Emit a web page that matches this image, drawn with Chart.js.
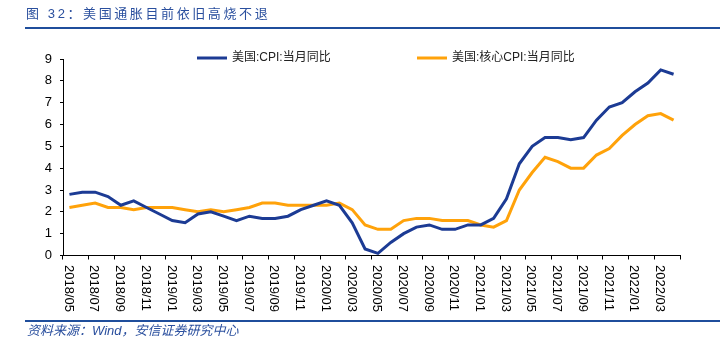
<!DOCTYPE html>
<html>
<head>
<meta charset="utf-8">
<script src="https://cdn.jsdelivr.net/npm/chart.js@4"></script>
<style>
html,body{margin:0;padding:0;background:#fff;}
#wrap{position:relative;width:720px;height:345px;overflow:hidden;background:#fff;}
#c{position:absolute;left:0;top:0;}
#title{position:absolute;left:26px;top:6px;line-height:16px;font-size:13px;font-family:"Liberation Sans","Noto Sans CJK SC",sans-serif;color:#2a4f9e;letter-spacing:2.6px;white-space:nowrap;}
#topline{position:absolute;left:25px;top:27px;width:695px;height:2px;background:#1f4e9c;}
#srcline{position:absolute;left:25px;top:320px;width:695px;height:1.5px;background:#1f4e9c;}
#src{position:absolute;left:27px;top:323px;line-height:16px;font-size:13px;font-style:italic;font-family:"Liberation Sans","Noto Sans CJK SC",sans-serif;color:#2a4f9e;letter-spacing:0px;white-space:nowrap;}
</style>
</head>
<body>
<div id="wrap">
  <canvas id="c" width="720" height="345"></canvas>
  <div id="title">图 32：美国通胀目前依旧高烧不退</div>
  <div id="topline"></div>
  <div id="srcline"></div>
  <div id="src">资料来源：Wind，安信证券研究中心</div>
</div>
<script>
const categories = [
  '2018/05','2018/06','2018/07','2018/08','2018/09','2018/10','2018/11','2018/12',
  '2019/01','2019/02','2019/03','2019/04','2019/05','2019/06','2019/07','2019/08','2019/09','2019/10','2019/11','2019/12',
  '2020/01','2020/02','2020/03','2020/04','2020/05','2020/06','2020/07','2020/08','2020/09','2020/10','2020/11','2020/12',
  '2021/01','2021/02','2021/03','2021/04','2021/05','2021/06','2021/07','2021/08','2021/09','2021/10','2021/11','2021/12',
  '2022/01','2022/02','2022/03','2022/04'
];
const cpi = [
  2.8,2.9,2.9,2.7,2.3,2.5,2.2,1.9,
  1.6,1.5,1.9,2.0,1.8,1.6,1.8,1.7,1.7,1.8,2.1,2.3,
  2.5,2.3,1.5,0.3,0.1,0.6,1.0,1.3,1.4,1.2,1.2,1.4,
  1.4,1.7,2.6,4.2,5.0,5.4,5.4,5.3,5.4,6.2,6.8,7.0,
  7.5,7.9,8.5,8.3
];
const coreCpi = [
  2.2,2.3,2.4,2.2,2.2,2.1,2.2,2.2,
  2.2,2.1,2.0,2.1,2.0,2.1,2.2,2.4,2.4,2.3,2.3,2.3,
  2.3,2.4,2.1,1.4,1.2,1.2,1.6,1.7,1.7,1.6,1.6,1.6,
  1.4,1.3,1.6,3.0,3.8,4.5,4.3,4.0,4.0,4.6,4.9,5.5,
  6.0,6.4,6.5,6.2
];
const seriesNames = ['美国:CPI:当月同比','美国:核心CPI:当月同比'];
const tickLabels = [
  '2018/05','2018/07','2018/09','2018/11','2019/01','2019/03','2019/05','2019/07','2019/09','2019/11',
  '2020/01','2020/03','2020/05','2020/07','2020/09','2020/11','2021/01','2021/03','2021/05','2021/07',
  '2021/09','2021/11','2022/01','2022/03'
];
const yMin = 0, yMax = 9, yStep = 1;

const COLORS = ['#1c3b94', '#ffa20a'];
const FONT = '"Liberation Sans", Arial, "Noto Sans CJK SC", sans-serif';
const LEGEND_POS = [{x:197, y:58}, {x:417, y:58}];

const overlay = {
  id: 'overlay',
  afterDraw(chart) {
    const ctx = chart.ctx;
    const s = chart.scales.x;
    const half = (s.getPixelForValue(1) - s.getPixelForValue(0)) / 2;
    ctx.save();
    ctx.font = '13px ' + FONT;
    ctx.fillStyle = '#000';
    ctx.textAlign = 'left';
    ctx.textBaseline = 'middle';
    tickLabels.forEach(lab => {
      const i = categories.indexOf(lab);
      const x = s.getPixelForValue(i) - half;
      ctx.save();
      ctx.translate(x + 5.3, s.top + 9.5);
      ctx.rotate(Math.PI / 2);
      ctx.fillText(lab, 0, 0);
      ctx.restore();
    });
    // legend
    chart.data.datasets.forEach((ds, k) => {
      const p = LEGEND_POS[k];
      ctx.strokeStyle = ds.borderColor;
      ctx.lineWidth = 3;
      ctx.beginPath();
      ctx.moveTo(p.x, p.y);
      ctx.lineTo(p.x + 30, p.y);
      ctx.stroke();
      ctx.fillStyle = '#222';
      ctx.font = '12px ' + FONT;
      ctx.fillText(ds.label, p.x + 35, p.y);
    });
    ctx.restore();
  }
};

new Chart(document.getElementById('c'), {
  type: 'line',
  data: {
    labels: categories,
    datasets: [
      {label: seriesNames[0], data: cpi, borderColor: COLORS[0], backgroundColor: COLORS[0], borderWidth: 3, pointRadius: 0, tension: 0, fill: false},
      {label: seriesNames[1], data: coreCpi, borderColor: COLORS[1], backgroundColor: COLORS[1], borderWidth: 3, pointRadius: 0, tension: 0, fill: false}
    ]
  },
  options: {
    responsive: false,
    animation: false,
    events: [],
    layout: {padding: {left: 23, right: 40, top: 59, bottom: 19.5}},
    plugins: {legend: {display: false}, tooltip: {enabled: false}, title: {display: false}},
    scales: {
      x: {
        type: 'category',
        offset: true,
        grid: {
          offset: true,
          drawOnChartArea: false,
          drawTicks: true,
          tickLength: 4,
          lineWidth: 1,
          color: (c) => (c.index === undefined || c.index % 2 === 0) ? '#000' : 'rgba(0,0,0,0)'
        },
        border: {display: true, color: '#000', width: 1},
        ticks: {display: false, autoSkip: false},
        afterFit: (sc) => { sc.height = 70; }
      },
      y: {
        min: yMin, max: yMax,
        ticks: {stepSize: yStep, padding: 8, color: '#000', font: {size: 13, family: FONT}},
        grid: {drawOnChartArea: false, drawTicks: true, tickLength: 3, color: '#000'},
        border: {display: true, color: '#000', width: 1},
        afterFit: (sc) => { sc.width = 40; }
      }
    }
  },
  plugins: [overlay]
});
</script>
</body>
</html>
